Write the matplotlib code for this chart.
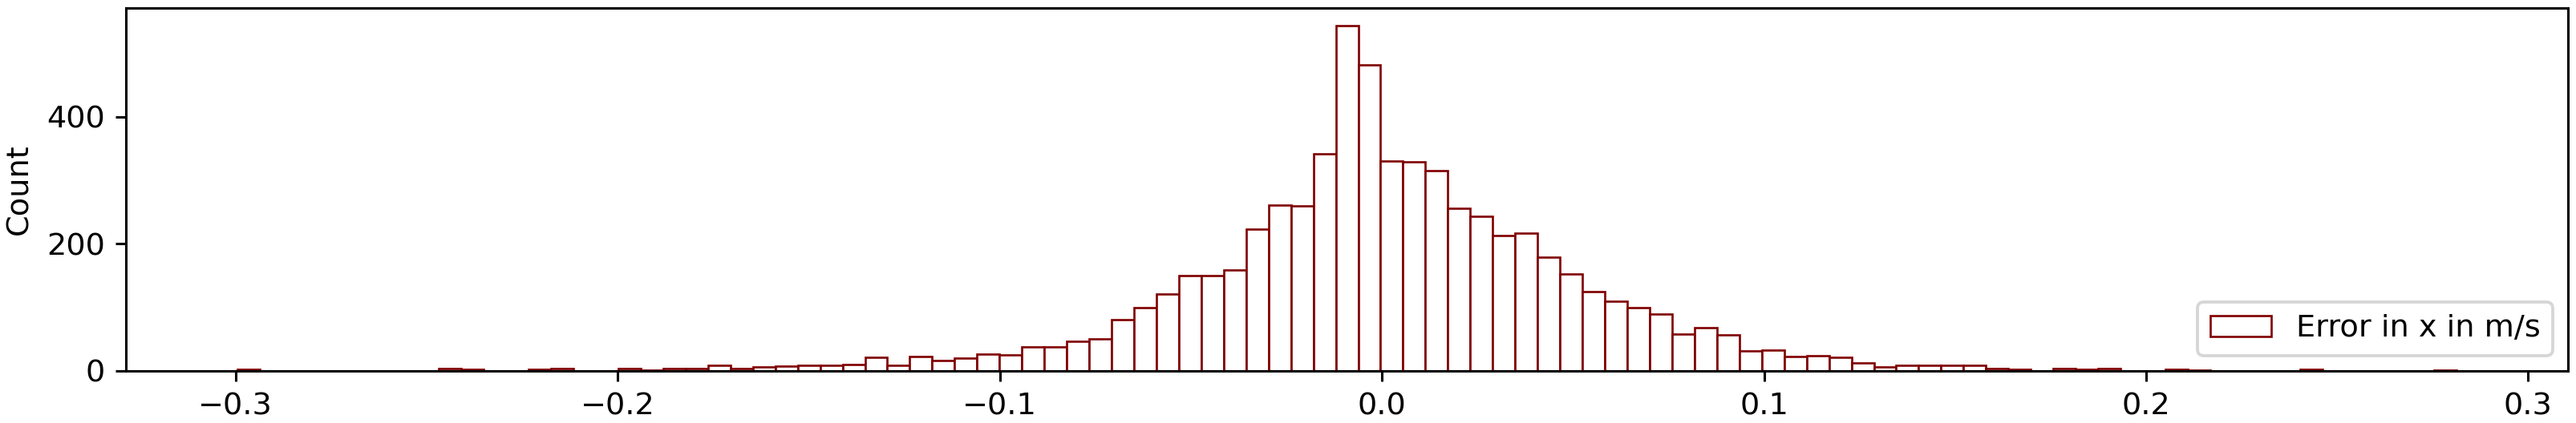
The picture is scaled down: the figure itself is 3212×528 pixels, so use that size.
import numpy as np
import matplotlib.pyplot as plt

# histogram: 99 equal bins between x_lo and x_hi
x_lo = -0.2996
x_hi = 0.2813
counts = [
    2, 0, 0, 0, 0, 0, 0, 0, 0, 3,
    2, 0, 0, 2, 4, 0, 0, 3, 1, 3,
    4, 8, 3, 6, 7, 9, 9, 10, 21, 8,
    22, 16, 20, 26, 25, 37, 37, 46, 50, 80,
    99, 121, 150, 150, 159, 223, 261, 259, 341, 544,
    481, 330, 329, 315, 256, 243, 213, 217, 179, 152,
    125, 110, 99, 89, 58, 68, 57, 31, 33, 22,
    23, 21, 12, 6, 8, 8, 9, 8, 4, 2,
    0, 4, 2, 4, 0, 0, 2, 1, 0, 0,
    0, 0, 2, 0, 0, 0, 0, 0, 1,
]
label = 'Error in x in m/s'

edges = np.linspace(x_lo, x_hi, len(counts) + 1)

fig = plt.figure(figsize=(3212 / 275, 528 / 275), dpi=275)
ax = fig.add_axes([0.0490, 0.1237, 0.9478, 0.8574])

ax.hist(edges[:-1], bins=edges, weights=counts, histtype='bar',
        facecolor='white', edgecolor='#800000', linewidth=0.7, label=label)

ax.set_ylabel('Count')
ax.set_yticks([0, 200, 400])
ax.legend(loc='lower right')

fig.savefig('out.png', dpi=275)
